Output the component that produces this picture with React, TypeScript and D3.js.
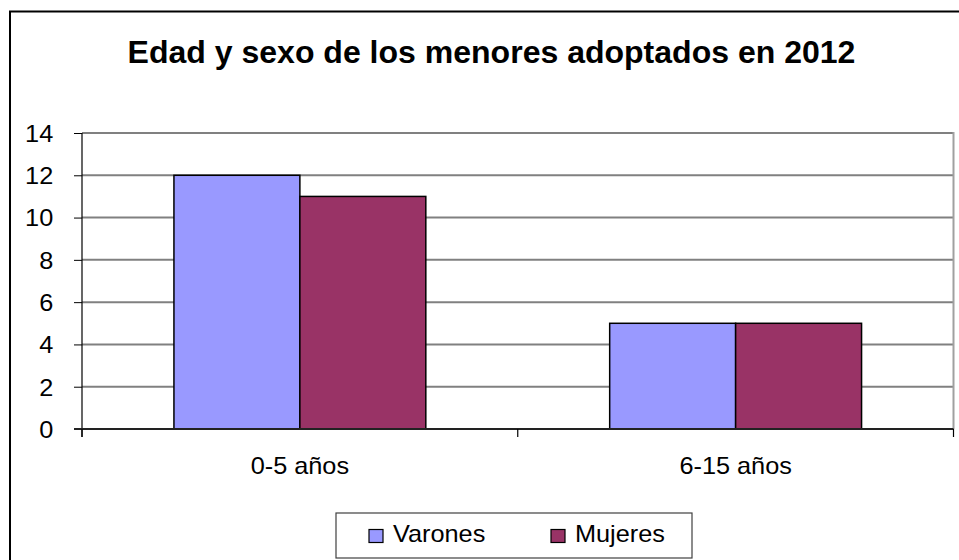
import React, { useRef, useEffect } from 'react';
import * as d3 from 'd3';

const categories = ['0-5 años', '6-15 años'];
const seriesNames = ['Varones', 'Mujeres'];
const varones = [12, 5];
const mujeres = [11, 5];
const yTicks = [0, 2, 4, 6, 8, 10, 12, 14];
const colors = ['#9999ff', '#993366'];

const W = 959;
const H = 560;
const FONT = "Arial, 'Liberation Sans', sans-serif";
// the reference text is a bit wider than its height suggests
const SX = 1.1;

function App() {
  const svgRef = useRef<SVGSVGElement>(null);

  useEffect(() => {
    const svg = d3.select(svgRef.current);
    svg.selectAll('*').remove();

    const left = 82;
    const right = 953.5;
    const top = 133;
    const bottom = 429;

    // outer chart border (only top/left visible in the frame)
    svg
      .append('rect')
      .attr('x', 10)
      .attr('y', 11.5)
      .attr('width', 1200)
      .attr('height', 1200)
      .attr('fill', 'none')
      .attr('stroke', '#000')
      .attr('stroke-width', 2);

    svg
      .append('text')
      .attr('transform', 'translate(491.5,62.5) scale(1.05,1)')
      .attr('text-anchor', 'middle')
      .attr('font-family', FONT)
      .attr('font-weight', 'bold')
      .attr('font-size', 30.5)
      .text('Edad y sexo de los menores adoptados en 2012');

    const yScale = d3.scaleLinear().domain([0, 14]).range([bottom, top]);
    const x0 = d3.scaleBand().domain(categories).range([left, right]).padding(0);
    const x1 = d3
      .scaleBand()
      .domain(seriesNames)
      .range([0, x0.bandwidth()])
      .paddingInner(0)
      .paddingOuter(0.73);

    // gridlines
    svg
      .append('g')
      .selectAll('line')
      .data(yTicks.filter((d) => d > 0))
      .join('line')
      .attr('x1', left)
      .attr('x2', right)
      .attr('y1', (d) => yScale(d))
      .attr('y2', (d) => yScale(d))
      .attr('stroke', '#808080')
      .attr('stroke-width', 2);

    // right plot border
    svg
      .append('line')
      .attr('x1', right)
      .attr('x2', right)
      .attr('y1', top - 1)
      .attr('y2', bottom)
      .attr('stroke', '#a0a0a0')
      .attr('stroke-width', 2);

    // bars
    const values = [varones, mujeres];
    const groups = svg
      .append('g')
      .selectAll('g')
      .data(categories)
      .join('g')
      .attr('transform', (d) => `translate(${x0(d)},0)`);

    groups
      .selectAll('rect')
      .data((c, i) => seriesNames.map((s, j) => ({ s, v: values[j][i], j })))
      .join('rect')
      .attr('x', (d) => x1(d.s)!)
      .attr('y', (d) => yScale(d.v))
      .attr('width', x1.bandwidth())
      .attr('height', (d) => bottom - yScale(d.v))
      .attr('fill', (d) => colors[d.j])
      .attr('stroke', '#000')
      .attr('stroke-width', 1.5);

    // y axis
    const yAxis = d3
      .axisLeft(yScale)
      .tickValues(yTicks)
      .tickSize(8)
      .tickPadding(18.2);
    const yG = svg.append('g').attr('transform', `translate(${left},0)`).call(yAxis);
    yG.select('.domain').attr('stroke', '#000').attr('stroke-width', 1.2).attr('d', `M0,${top}V${bottom + 8}`);
    yG.selectAll('.tick line').attr('stroke', '#000');
    yG.selectAll('.tick text')
      .attr('font-family', FONT)
      .attr('font-size', 23)
      .attr('fill', '#000')
      .attr('dy', '0.36em')
      .attr('transform', `scale(${SX},1)`);

    // x axis
    const xG = svg.append('g').attr('transform', `translate(0,${bottom})`);
    xG.append('line')
      .attr('x1', left - 8)
      .attr('x2', right)
      .attr('stroke', '#222')
      .attr('stroke-width', 2);
    const boundaries = [left, ...categories.map((c) => x0(c)! + x0.bandwidth())];
    xG.selectAll('.xt')
      .data(boundaries)
      .join('line')
      .attr('class', 'xt')
      .attr('x1', (d) => d)
      .attr('x2', (d) => d)
      .attr('y1', 0)
      .attr('y2', 8)
      .attr('stroke', '#000')
      .attr('stroke-width', 1.2);
    xG.selectAll('text')
      .data(categories)
      .join('text')
      .attr('transform', (d) => `translate(${x0(d)! + x0.bandwidth() / 2},45) scale(${SX},1)`)
      .attr('text-anchor', 'middle')
      .attr('font-family', FONT)
      .attr('font-size', 23)
      .text((d) => d);

    // legend
    const lg = svg.append('g');
    lg.append('rect')
      .attr('x', 336)
      .attr('y', 513)
      .attr('width', 356)
      .attr('height', 45)
      .attr('fill', '#fff')
      .attr('stroke', '#404040')
      .attr('stroke-width', 1.2);
    const items = lg
      .selectAll('g')
      .data(seriesNames)
      .join('g')
      .attr('transform', (d, i) => `translate(${[369, 551][i]},0)`);
    items
      .append('rect')
      .attr('x', 0)
      .attr('y', 529.5)
      .attr('width', 14)
      .attr('height', 13)
      .attr('fill', (d, i) => colors[i])
      .attr('stroke', '#000')
      .attr('stroke-width', 1.2);
    items
      .append('text')
      .attr('transform', `translate(24,542) scale(${SX},1)`)
      .attr('font-family', FONT)
      .attr('font-size', 23)
      .text((d) => d);
  }, []);

  return (
    <svg
      ref={svgRef}
      width={W}
      height={H}
      style={{ position: 'absolute', left: 0, top: 0, background: '#fff' }}
    />
  );
}

export default App;
